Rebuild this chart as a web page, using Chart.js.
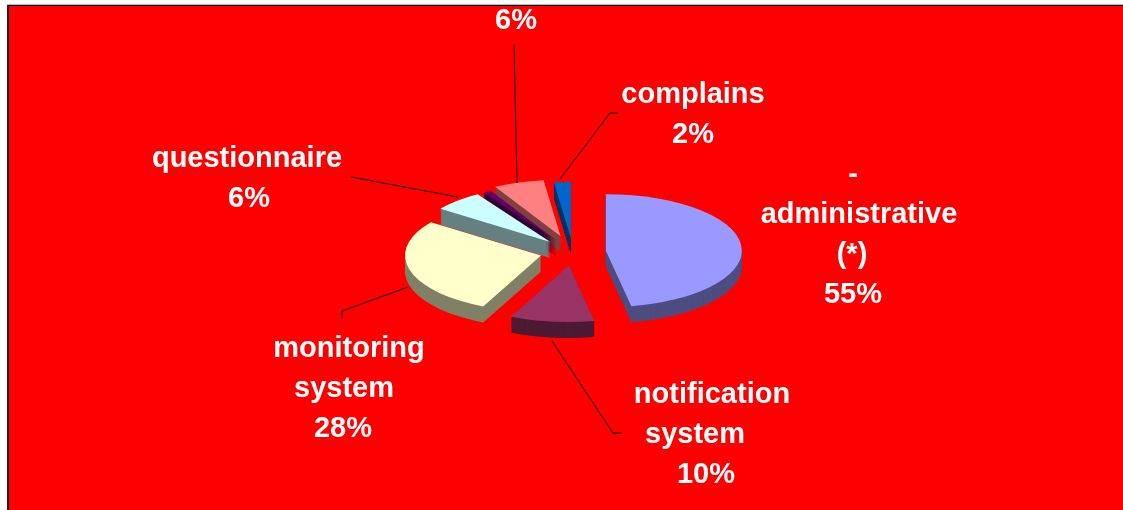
<!DOCTYPE html>
<html>
<head>
<meta charset="utf-8">
<style>
html,body{margin:0;padding:0;background:#fff;width:1123px;height:510px;overflow:hidden}
#wrap{position:absolute;left:0;top:0;width:1123px;height:510px}
</style>
<script src="https://cdn.jsdelivr.net/npm/chart.js@4/dist/chart.umd.min.js"></script>
</head>
<body>
<div id="wrap"><canvas id="c" width="1123" height="510"></canvas></div>
<script>
const categories = ["administrative (*)", "notification system", "monitoring system", "questionnaire", "(unlabelled)", "(top label)", "complains"];
const values = [47, 10, 28, 6, 1, 6, 2];
const printedPercents = ["55%", "10%", "28%", "6%", "", "6%", "2%"];
const topColors = ["#9999FF", "#993366", "#FFFFCC", "#CCFFFF", "#660066", "#FF8080", "#0066CC"];
const sideColors = ["#4D4D80", "#4D1A33", "#808066", "#668080", "#330033", "#804040", "#003366"];

const view = {cx: 573, cy: 252, tilt: 0.415, depth: 16, explode: [33, 33, 33, 33, 33, 40, 33]};
const textLines = [
  ["-", 853, 183], ["administrative", 859, 223], ["(*)", 852, 263], ["55%", 853, 303],
  ["complains", 693, 103], ["2%", 693, 143],
  ["6%", 516, 29],
  ["questionnaire", 247, 167], ["6%", 249, 207],
  ["monitoring", 349, 357], ["system", 344, 397], ["28%", 343, 437],
  ["notification", 712, 403], ["system", 695, 443], ["10%", 706, 483]
];
const leaders = [
  [[514, 45], [517, 183]],
  [[618, 113], [610, 113], [560, 179]],
  [[351, 177], [458, 197]],
  [[342, 319], [342, 311], [408, 287]],
  [[552, 341], [613, 433], [622, 433]]
];

const pie3d = {
  id: 'pie3d',
  beforeDraw(chart) {
    const c = chart.ctx;
    c.save();
    c.fillStyle = '#FF0000';
    c.fillRect(8, 5, 1115, 505);
    c.fillStyle = '#BBBBBB';
    c.fillRect(7, 4, 1116, 1);
    c.fillStyle = '#000';
    c.fillRect(7, 5, 1116, 1);
    c.fillStyle = '#222';
    c.fillRect(7, 5, 2, 505);
    c.restore();
  },
  beforeDatasetDraw(chart, args) {
    const c = chart.ctx;
    const arcs = chart.getDatasetMeta(args.index).data;
    const order = [6, 5, 4, 3, 2, 1, 0];
    order.forEach(i => {
      const arc = arcs[i];
      const mid = (arc.startAngle + arc.endAngle) / 2;
      const paint = (dy, color) => {
        c.save();
        c.translate(view.cx, view.cy + dy);
        c.scale(1, view.tilt);
        c.translate(Math.cos(mid) * view.explode[i], Math.sin(mid) * view.explode[i]);
        c.beginPath();
        c.moveTo(0, 0);
        c.arc(0, 0, arc.outerRadius, arc.startAngle, arc.endAngle);
        c.closePath();
        c.fillStyle = color;
        c.fill();
        c.restore();
      };
      for (let d = view.depth; d >= 1; d--) paint(d, sideColors[i]);
      paint(0, topColors[i]);
    });
    return false;
  },
  afterDatasetsDraw(chart) {
    const c = chart.ctx;
    c.save();
    c.strokeStyle = '#000';
    c.lineWidth = 1;
    leaders.forEach(pts => {
      c.beginPath();
      pts.forEach((p, k) => k ? c.lineTo(p[0], p[1]) : c.moveTo(p[0], p[1]));
      c.stroke();
    });
    c.fillStyle = '#fff';
    c.font = 'bold 29px "Liberation Sans", Arial, sans-serif';
    c.textAlign = 'center';
    c.textBaseline = 'alphabetic';
    textLines.forEach(t => c.fillText(t[0], t[1], t[2]));
    c.restore();
  }
};

new Chart(document.getElementById('c'), {
  type: 'pie',
  data: {
    labels: categories,
    datasets: [{data: values, backgroundColor: topColors, borderWidth: 0}]
  },
  options: {
    responsive: false,
    animation: false,
    radius: 136,
    plugins: {legend: {display: false}, tooltip: {enabled: false}, title: {display: false}}
  },
  plugins: [pie3d]
});
</script>
</body>
</html>
